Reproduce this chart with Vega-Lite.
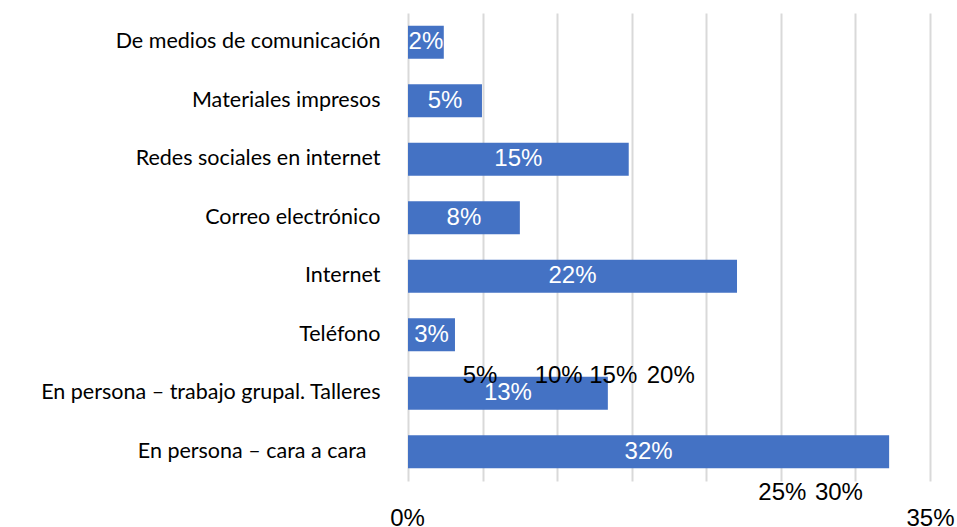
{
  "$schema": "https://vega.github.io/schema/vega-lite/v6.json",
  "width": 522,
  "height": 468,
  "autosize": {"type": "none"},
  "padding": {"left": 408, "top": 13, "right": 27, "bottom": 46},
  "background": "white",
  "config": {"view": {"stroke": null}},
  "data": {
    "values": [
      {"cat": "De medios de comunicación", "value": 2.4, "label": "2%"},
      {"cat": "Materiales impresos", "value": 4.96, "label": "5%"},
      {"cat": "Redes sociales en internet", "value": 14.8, "label": "15%"},
      {"cat": "Correo electrónico", "value": 7.5, "label": "8%"},
      {"cat": "Internet", "value": 22.06, "label": "22%"},
      {"cat": "Teléfono", "value": 3.15, "label": "3%"},
      {"cat": "En persona – trabajo grupal. Talleres", "value": 13.4, "label": "13%"},
      {"cat": "En persona – cara a cara", "value": 32.26, "label": "32%"}
    ]
  },
  "encoding": {
    "y": {
      "field": "cat",
      "type": "nominal",
      "sort": null,
      "scale": {"paddingInner": 0.435, "paddingOuter": 0.2175},
      "axis": {
        "title": null,
        "domain": false,
        "ticks": false,
        "labelPadding": {
          "condition": {"test": "datum.value == 'En persona – cara a cara'", "value": 42},
          "value": 28
        },
        "labelFont": "Lato",
        "labelFontSize": 21.5,
        "labelColor": "#000000",
        "labelLimit": 0
      }
    }
  },
  "resolve": {"axis": {"x": "independent"}},
  "layer": [
    {
      "mark": {"type": "bar", "color": "#4472C4"},
      "encoding": {
        "x": {
          "field": "value",
          "type": "quantitative",
          "scale": {"domain": [0, 35], "nice": false},
          "axis": {
            "orient": "bottom",
            "title": null,
            "values": [0, 5, 10, 15, 20, 25, 30, 35],
            "grid": true,
            "gridColor": "#d9d9d9",
            "gridWidth": 2,
            "domain": false,
            "ticks": false,
            "labels": false,
            "zindex": 0
          }
        }
      }
    },
    {
      "transform": [{"calculate": "datum.value / 2", "as": "mid"}],
      "mark": {"type": "text", "color": "white", "font": "Liberation Sans", "fontSize": 24, "baseline": "middle"},
      "encoding": {
        "x": {
          "field": "mid",
          "type": "quantitative",
          "scale": {"domain": [0, 35], "nice": false},
          "axis": {
            "orient": "bottom",
            "offset": 0,
            "title": null,
            "values": [0, 5, 10, 15, 20, 25, 30, 35],
            "labelExpr": "datum.value + '%'",
            "grid": false,
            "domain": false,
            "ticks": false,
            "zindex": 1,
            "labelFont": "Liberation Sans",
            "labelFontSize": 24,
            "labelColor": "#000000",
            "labelBaseline": "middle",
            "labelFlush": false,
            "labelOverlap": false,
            "labelPadding": {
              "condition": [
                {"test": "datum.value == 0 || datum.value == 35", "value": 37},
                {"test": "datum.value == 25 || datum.value == 30", "value": 11}
              ],
              "value": -106
            },
            "labelOffset": {
              "condition": [
                {"test": "datum.value == 5", "value": -3},
                {"test": "datum.value == 10", "value": 1},
                {"test": "datum.value == 15", "value": -19},
                {"test": "datum.value == 20", "value": -36},
                {"test": "datum.value == 25", "value": 1},
                {"test": "datum.value == 30", "value": -17},
                {"test": "datum.value == 0", "value": -1}
              ],
              "value": 0
            }
          }
        },
        "text": {"field": "label"}
      }
    }
  ]
}
